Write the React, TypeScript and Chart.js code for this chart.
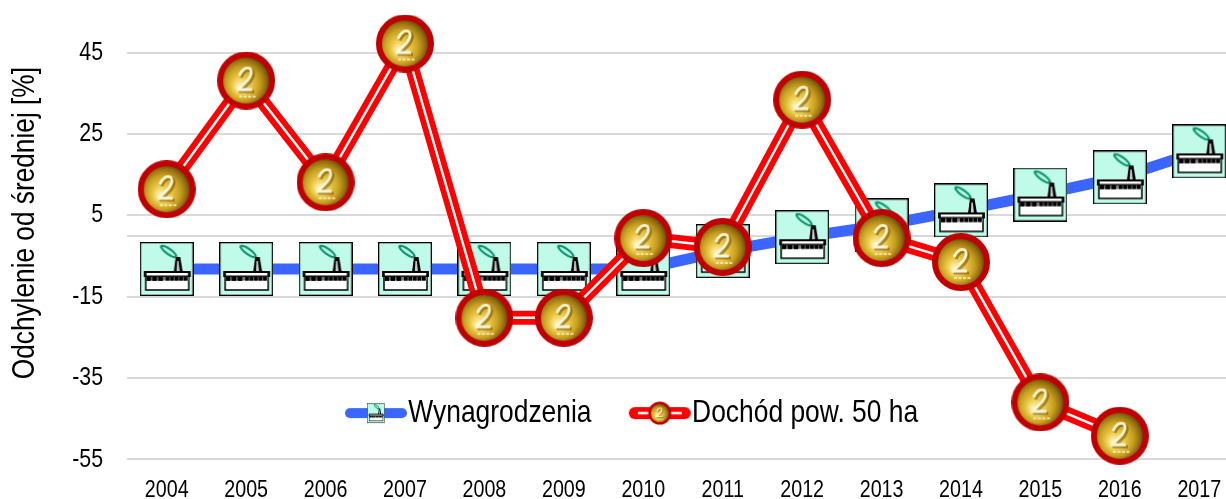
import React, { useEffect, useRef } from "react";
import { Chart, registerables } from "chart.js";

Chart.register(...registerables);

const years = ["2004","2005","2006","2007","2008","2009","2010","2011","2012","2013","2014","2015","2016","2017"];
const wages = [-8.2,-8.2,-8.2,-8.2,-8.2,-8.2,-8.2,-3.8,-0.4,2.5,6.2,10.1,14.3,20.7];
const income = [11.4,38.1,13.1,47.2,-20.2,-20.2,-0.6,-2.8,33.4,-0.6,-6.5,-41,-49.2,null];
const yTicks = [45,25,5,0,-15,-35,-55];
const seriesNames = ["Wynagrodzenia","Dochód pow. 50 ha"];
const yTitle = "Odchylenie od średniej [%]";

const FONT = "'Liberation Sans',Arial,sans-serif";
const NARROW = 0.82;
const BLUE = "#3a66ff";
const RED = "#ff0000";

// Arial Narrow is not installed: condense the Liberation Sans text along its own direction.
function condenseText(c: any) {
  const fill = c.fillText.bind(c);
  const measure = c.measureText.bind(c);
  c.fillText = (t: string, x: number, y: number) => {
    c.save();
    c.translate(x, y);
    c.scale(NARROW, 1);
    fill(t, 0, 0);
    c.restore();
  };
  c.measureText = (t: string) => ({ width: measure(t).width * NARROW });
}

function drawFactory(c: CanvasRenderingContext2D, x: number, y: number, s: number, sy = s) {
  c.save();
  c.translate(x, y);
  c.scale(s, sy);
  c.fillStyle = "#bffbe8";
  c.fillRect(0, 0, 54, 54);
  c.strokeStyle = "#000";
  c.lineWidth = 1.3;
  c.strokeRect(0.65, 0.65, 52.7, 52.7);
  c.save();
  c.translate(29, 9.5);
  c.rotate(0.62);
  c.beginPath();
  c.ellipse(0, 0, 10.5, 3.8, 0, 0, Math.PI * 2);
  c.fillStyle = "#0c9a72";
  c.fill();
  c.beginPath();
  c.ellipse(0, 0, 7.5, 1.5, 0, 0, Math.PI * 2);
  c.fillStyle = "#bff5e0";
  c.fill();
  c.restore();
  c.fillStyle = "#000";
  c.beginPath();
  c.moveTo(36, 15); c.lineTo(40.5, 15); c.lineTo(43, 30); c.lineTo(34, 30);
  c.closePath();
  c.fill();
  c.fillStyle = "#ccc";
  c.beginPath();
  c.moveTo(37.4, 19); c.lineTo(38.8, 19); c.lineTo(40, 30); c.lineTo(36.8, 30);
  c.closePath();
  c.fill();
  c.fillStyle = "#fff";
  c.fillRect(6, 30, 43, 18);
  c.strokeStyle = "#000";
  c.lineWidth = 1.5;
  c.strokeRect(6, 30, 43, 18);
  c.lineWidth = 1.8;
  c.beginPath();
  c.moveTo(5, 35); c.lineTo(5, 30); c.lineTo(50, 30); c.lineTo(50, 35);
  c.stroke();
  c.fillStyle = "#000";
  c.fillRect(4.5, 33.5, 46, 1.4);
  c.fillStyle = "#777";
  c.fillRect(6, 35, 43, 3.6);
  c.fillStyle = "#000";
  for (const wx of [6.5, 12.5, 18.5]) c.fillRect(wx, 34.7, 4.6, 4.2);
  for (const wx of [26, 30.5, 35, 39.5, 44]) c.fillRect(wx, 35, 3.6, 3.6);
  c.restore();
}

function drawCoin(c: CanvasRenderingContext2D, cx: number, cy: number, r: number) {
  const k = r / 29;
  c.save();
  c.translate(cx, cy);
  c.scale(k, k);
  c.beginPath();
  c.arc(0, 0, 26, 0, Math.PI * 2);
  const g = c.createRadialGradient(-6, 7, 2, -2, 1, 26);
  g.addColorStop(0, "#fff3b4");
  g.addColorStop(0.3, "#ecc948");
  g.addColorStop(0.62, "#c9a021");
  g.addColorStop(0.85, "#94700f");
  g.addColorStop(1, "#5e4406");
  c.fillStyle = g;
  c.fill();
  c.lineWidth = 6;
  c.strokeStyle = "#c00000";
  c.stroke();
  c.lineJoin = "round";
  c.strokeStyle = "rgba(110,75,5,0.55)";
  c.lineWidth = 3.2;
  c.beginPath();
  c.moveTo(-5, -3);
  c.quadraticCurveTo(-1, -13, 6, -10);
  c.quadraticCurveTo(9, -6, 4, 1);
  c.lineTo(-6, 11);
  c.lineTo(8, 11);
  c.stroke();
  c.strokeStyle = "rgba(255,248,215,0.95)";
  c.lineWidth = 2.8;
  c.beginPath();
  c.moveTo(-7, -5);
  c.quadraticCurveTo(-2, -15, 4, -12);
  c.quadraticCurveTo(7, -8, 2, -1);
  c.lineTo(-8, 9);
  c.lineTo(6, 9);
  c.stroke();
  c.strokeStyle = "rgba(255,245,205,0.75)";
  c.lineWidth = 2;
  c.setLineDash([3, 1.5]);
  c.beginPath();
  c.moveTo(-7, 16); c.lineTo(10, 16);
  c.stroke();
  c.restore();
}

function makeCanvas(w: number, h: number, paint: (c: CanvasRenderingContext2D) => void) {
  const el = document.createElement("canvas");
  el.width = w;
  el.height = h;
  paint(el.getContext("2d") as CanvasRenderingContext2D);
  return el;
}

export default function App() {
  const ref = useRef<HTMLCanvasElement>(null);
  useEffect(() => {
    const canvas = ref.current as HTMLCanvasElement;
    condenseText(canvas.getContext("2d"));
    const factoryMark = makeCanvas(54, 54, (c) => drawFactory(c, 0, 0, 1));
    const coinMark = makeCanvas(58, 58, (c) => drawCoin(c, 29, 29, 29));
    const legendWages = makeCanvas(64, 24, (c) => {
      c.lineCap = "round";
      c.lineWidth = 10;
      c.strokeStyle = BLUE;
      c.beginPath(); c.moveTo(6, 12); c.lineTo(58, 12); c.stroke();
      drawFactory(c, 23.5, 2, 17 / 54, 20 / 54);
    });
    const legendIncome = makeCanvas(64, 26, (c) => {
      c.lineCap = "round";
      c.lineWidth = 12;
      c.strokeStyle = RED;
      c.beginPath(); c.moveTo(7, 13); c.lineTo(57, 13); c.stroke();
      c.lineCap = "butt";
      c.lineWidth = 2.4;
      c.strokeStyle = "#fff";
      c.beginPath(); c.moveTo(10, 13); c.lineTo(54, 13); c.stroke();
      drawCoin(c, 32, 13, 11.5);
    });

    const placeLegend = {
      id: "placeLegend",
      beforeLayout(chart: any) {
        const l = chart.legend;
        if (!l.__fit) {
          l.__fit = l.fit;
          l.fit = function () { l.__fit.call(l); l.height = 0; };
        }
      },
      beforeDraw(chart: any) {
        const l = chart.legend;
        l.left = 307.75;
        l.right = 1240;
        l.top = 345;
        l.bottom = 480;
      },
    };

    const chart = new Chart(canvas, {
      type: "line",
      data: {
        labels: years,
        datasets: [
          { label: seriesNames[0], data: wages, order: 4, borderColor: BLUE, borderWidth: 11, pointStyle: factoryMark as any, pointRadius: 27, tension: 0, clip: false as any },
          { label: seriesNames[1], data: income, order: 3, borderColor: RED, borderWidth: 14, pointRadius: 0, tension: 0, clip: false as any },
          { label: seriesNames[1] + " (środek linii)", data: income, order: 2, borderColor: "#ffffff", borderWidth: 2.4, pointRadius: 0, tension: 0, clip: false as any },
          { label: seriesNames[1] + " (znaczniki)", data: income, order: 1, showLine: false, pointStyle: coinMark as any, pointRadius: 29, clip: false as any },
        ],
      },
      options: {
        animation: false,
        responsive: false,
        layout: { padding: { top: 52.5, left: 0, right: 0, bottom: 0 } },
        plugins: {
          title: { display: false },
          tooltip: { enabled: false },
          legend: {
            display: true,
            position: "bottom",
            align: "start",
            labels: {
              usePointStyle: true,
              pointStyleWidth: 32.5,
              padding: 52,
              color: "#000",
              font: { family: FONT, size: 32.2 },
              generateLabels: () => [
                { text: seriesNames[0], pointStyle: legendWages, fontColor: "#000", lineWidth: 0, datasetIndex: 0 },
                { text: seriesNames[1], pointStyle: legendIncome, fontColor: "#000", lineWidth: 0, datasetIndex: 1 },
              ],
            },
          },
        },
        scales: {
          x: {
            type: "category",
            offset: true,
            grid: { display: false, drawTicks: false },
            border: { display: false },
            ticks: { color: "#000", font: { family: FONT, size: 24 }, padding: 17, maxRotation: 0, autoSkip: false },
            afterFit(s: any) { s.height = 38; },
          },
          y: {
            type: "linear",
            min: -55,
            max: 45,
            grid: { color: "#d9d9d9", lineWidth: 2, drawTicks: false },
            border: { display: false },
            title: {
              display: true,
              text: yTitle + "  ",
              align: "end",
              color: "#000",
              font: { family: FONT, size: 32 },
              padding: { top: 6, bottom: 0 },
            },
            ticks: {
              color: "#000",
              font: { family: FONT, size: 26 },
              padding: 24,
              autoSkip: false,
              callback: (v: any) => (v === 0 ? "" : String(v)),
            },
            afterBuildTicks(s: any) { s.ticks = yTicks.map((value) => ({ value })); },
            afterFit(s: any) { s.width = 127; },
          },
        },
      } as any,
      plugins: [placeLegend as any],
    });
    return () => chart.destroy();
  }, []);
  return (
    <div style={{ position: "fixed", left: 0, top: 0, width: 1226, height: 499, overflow: "hidden", background: "#fff" }}>
      <canvas ref={ref} width={1277} height={499} style={{ display: "block" }} />
    </div>
  );
}
